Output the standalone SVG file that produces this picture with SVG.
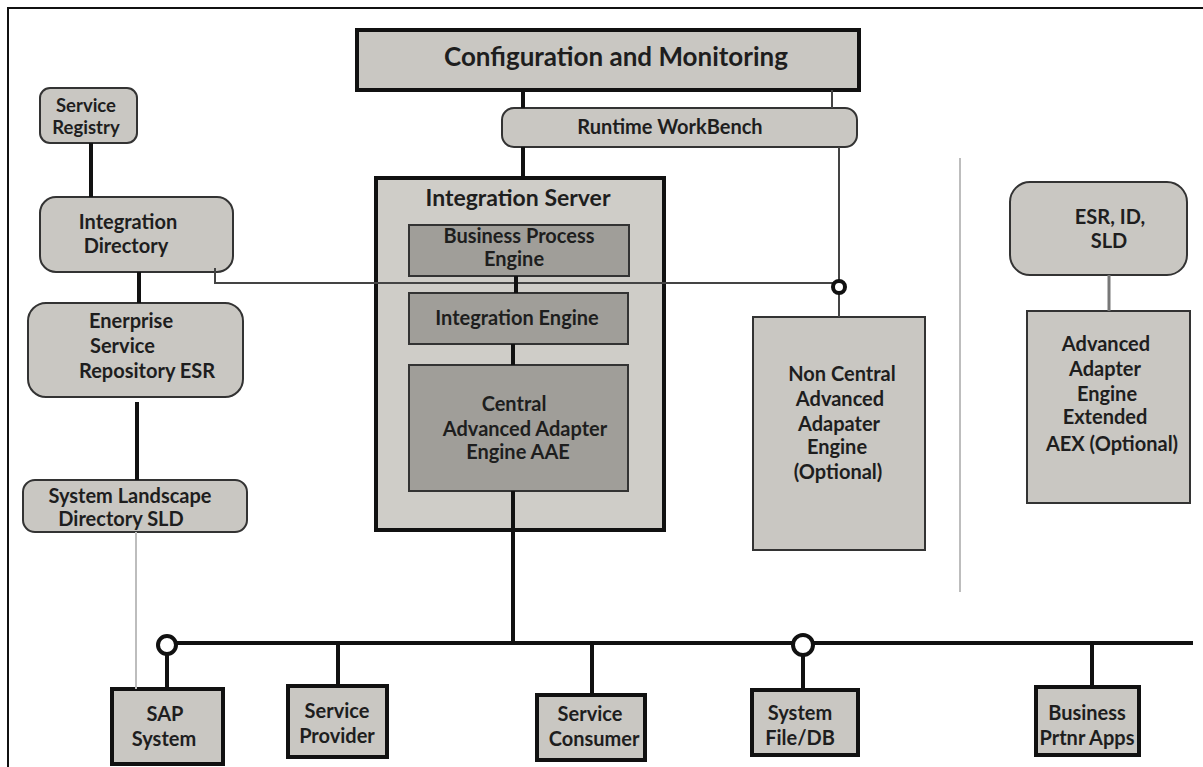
<svg xmlns="http://www.w3.org/2000/svg" width="1203" height="767" viewBox="0 0 1203 767">
<style>
text{font-family:Lato,"Open Sans","Liberation Sans",sans-serif;font-weight:bold;fill:#1e1e1e;text-anchor:middle;font-size:20px}
.box{fill:#c9c7c2;stroke:#111;stroke-width:4}
.rbox{fill:#c9c7c2;stroke:#333;stroke-width:2}
.inner{fill:#a09e99;stroke:#333;stroke-width:2}
.thick{stroke:#111;stroke-width:4;fill:none}
.thin{stroke:#444;stroke-width:2;fill:none}
.faint{stroke:#bdbdbd;stroke-width:2;fill:none}
.ring{fill:#fff;stroke:#111;stroke-width:4}
.st{text-anchor:start}
text.big{font-size:26px}
text.title{font-size:23px}
text.small{font-size:18.5px}
</style>
<rect width="1203" height="767" fill="#fff"/>
<path d="M8,767 V8 H1203" fill="none" stroke="#111" stroke-width="2"/>
<line x1="960" y1="158" x2="960" y2="592" class="faint"/>

<g id="config-monitoring">
<rect x="357" y="30" width="502" height="60" class="box"/>
<text x="616" y="66" class="big">Configuration and Monitoring</text>
</g>
<g id="runtime-workbench">
<rect x="502" y="108" width="355" height="39" rx="12" class="rbox"/>
<text x="670" y="134">Runtime WorkBench</text>
</g>
<g id="service-registry">
<rect x="40" y="88" width="97" height="55" rx="10" class="rbox"/>
<text x="86" y="112" class="small">Service</text>
<text x="86" y="134" class="small">Registry</text>
</g>
<g id="integration-directory">
<rect x="40" y="197" width="193" height="75" rx="16" class="rbox"/>
<text x="128" y="229">Integration</text>
<text x="126" y="253">Directory</text>
</g>
<g id="esr">
<rect x="28" y="303" width="215" height="94" rx="18" class="rbox"/>
<text x="89" y="328" class="st">Enerprise</text>
<text x="90" y="353" class="st">Service</text>
<text x="79" y="378" class="st">Repository ESR</text>
</g>
<g id="sld">
<rect x="23" y="480" width="224" height="52" rx="12" class="rbox"/>
<text x="130" y="503">System Landscape</text>
<text x="121" y="526">Directory SLD</text>
</g>
<g id="integration-server">
<rect x="376" y="178" width="288" height="352" fill="#cfcdc8" stroke="#111" stroke-width="4"/>
<text x="518" y="206" class="title">Integration Server</text>
</g>
<g id="business-process-engine">
<rect x="409" y="225" width="220" height="51" class="inner"/>
<text x="519" y="243">Business Process</text>
<text x="514" y="266">Engine</text>
</g>
<g id="integration-engine">
<rect x="409" y="293" width="219" height="51" class="inner"/>
<text x="517" y="325">Integration Engine</text>
</g>
<g id="central-aae">
<rect x="409" y="365" width="219" height="126" class="inner"/>
<text x="514" y="411">Central</text>
<text x="525" y="436">Advanced Adapter</text>
<text x="518" y="459">Engine AAE</text>
</g>
<g id="non-central-aae">
<rect x="753" y="317" width="172" height="233" fill="#c9c7c2" stroke="#333" stroke-width="2"/>
<text x="842" y="381">Non Central</text>
<text x="840" y="406">Advanced</text>
<text x="839" y="431">Adapater</text>
<text x="837" y="454">Engine</text>
<text x="838" y="479">(Optional)</text>
</g>
<g id="esr-id-sld">
<rect x="1010" y="182" width="177" height="93" rx="20" class="rbox"/>
<text x="1110" y="224">ESR, ID,</text>
<text x="1109" y="248">SLD</text>
</g>
<g id="aex">
<rect x="1027" y="311" width="163" height="192" fill="#c9c7c2" stroke="#333" stroke-width="2"/>
<text x="1106" y="351">Advanced</text>
<text x="1105" y="376">Adapter</text>
<text x="1107" y="401">Engine</text>
<text x="1105" y="424">Extended</text>
<text x="1112" y="451">AEX (Optional)</text>
</g>
<g id="sap-system">
<rect x="112" y="689" width="111" height="75" class="box"/>
<text x="165" y="721">SAP</text>
<text x="164" y="746">System</text>
</g>
<g id="service-provider">
<rect x="288" y="686" width="99" height="71" class="box"/>
<text x="337" y="718">Service</text>
<text x="337" y="743">Provider</text>
</g>
<g id="service-consumer">
<rect x="537" y="695" width="108" height="65" class="box"/>
<text x="590" y="721">Service</text>
<text x="594" y="746">Consumer</text>
</g>
<g id="system-file-db">
<rect x="752" y="690" width="106" height="65" class="box"/>
<text x="800" y="720">System</text>
<text x="800" y="745">File/DB</text>
</g>
<g id="business-partner-apps">
<rect x="1036" y="687" width="103" height="68" class="box"/>
<text x="1087" y="720">Business</text>
<text x="1087" y="745">Prtnr Apps</text>
</g>

<g id="connectors">
<line x1="523" y1="90" x2="523" y2="108" class="thick"/>
<line x1="523" y1="147" x2="523" y2="178" class="thick"/>
<line x1="832" y1="90" x2="832" y2="108" class="thin"/>
<line x1="839" y1="147" x2="839" y2="282" class="thin"/>
<line x1="839" y1="292" x2="839" y2="317" class="thin"/>
<polyline points="215,268 215,283 833,283" class="thin" stroke="#666"/>
<circle cx="839" cy="287" r="6" class="ring" stroke-width="3"/>
<line x1="91" y1="143" x2="91" y2="197" class="thick"/>
<line x1="139" y1="272" x2="139" y2="303" class="thick"/>
<line x1="137" y1="402" x2="137" y2="480" class="thick"/>
<line x1="136" y1="532" x2="136" y2="689" class="faint"/>
<line x1="516" y1="276" x2="516" y2="293" class="thick"/>
<line x1="513" y1="344" x2="513" y2="365" class="thick"/>
<line x1="513" y1="491" x2="513" y2="643" class="thick"/>
<line x1="1109" y1="275" x2="1109" y2="311" stroke="#777" stroke-width="3"/>
<line x1="175" y1="643" x2="1193" y2="643" class="thick"/>
<line x1="167" y1="653" x2="167" y2="689" class="thick"/>
<line x1="338" y1="643" x2="338" y2="686" class="thick"/>
<line x1="592" y1="643" x2="592" y2="695" class="thick"/>
<line x1="803" y1="653" x2="803" y2="690" class="thick"/>
<line x1="1092" y1="643" x2="1092" y2="687" class="thick"/>
<circle cx="167" cy="645" r="9" class="ring"/>
<circle cx="803" cy="645" r="10" class="ring"/>
</g>
</svg>
